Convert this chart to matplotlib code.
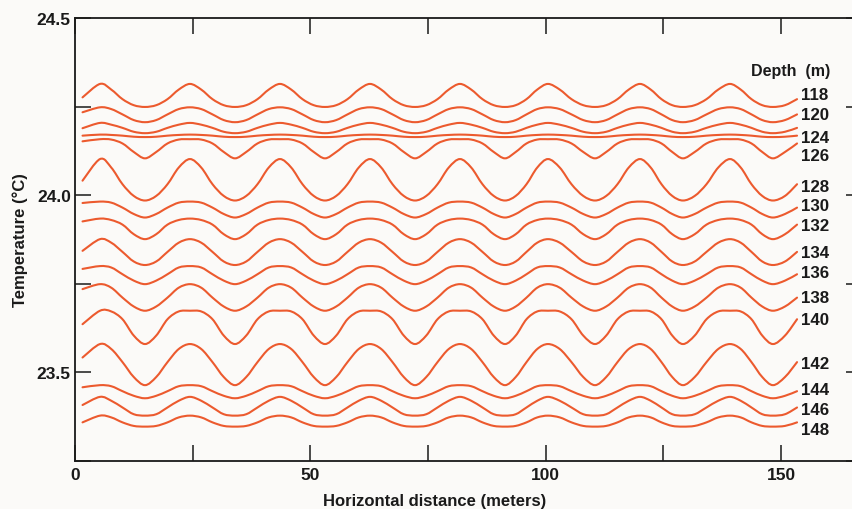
import numpy as np
import matplotlib.pyplot as plt
from matplotlib.path import Path
from matplotlib.patches import PathPatch

plt.rcParams['font.family'] = ['Liberation Sans', 'DejaVu Sans']

# Depth of each isotherm-like trace (m); the 122 m trace carries no label
DEPTHS = [118, 120, 122, 124, 126, 128, 130, 132,
          134, 136, 138, 140, 142, 144, 146, 148]
LABELED = [118, 120, 124, 126, 128, 130, 132, 134,
           136, 138, 140, 142, 144, 146, 148]

# Horizontal positions (m) of the wave crests and troughs
CREST_X = [5.31, 24.43, 43.55, 62.67, 81.79, 100.49, 120.03, 139.15]
TROUGH_X = [14.87, 33.99, 53.11, 72.24, 91.35, 110.47, 129.17, 148.29]
START_X = 1.6
END_X = 153.4

# Temperature (deg C) of each trace at crest, 1/8, 1/4, 3/8 period and trough
CREST = [24.314, 24.248, 24.204, 24.171, 24.158, 24.102, 23.982, 23.934,
         23.876, 23.800, 23.749, 23.674, 23.580, 23.464, 23.431, 23.378]
Q1 = [24.298, 24.243, 24.199, 24.170, 24.157, 24.078, 23.979, 23.930,
      23.866, 23.796, 23.739, 23.672, 23.566, 23.461, 23.420, 23.373]
MID = [24.271, 24.228, 24.190, 24.168, 24.146, 24.031, 23.965, 23.917,
       23.840, 23.777, 23.711, 23.650, 23.529, 23.447, 23.401, 23.359]
Q3 = [24.254, 24.212, 24.179, 24.165, 24.122, 23.998, 23.947, 23.890,
      23.813, 23.759, 23.686, 23.604, 23.487, 23.434, 23.382, 23.349]
TROUGH = [24.249, 24.206, 24.175, 24.164, 24.104, 23.985, 23.937, 23.876,
          23.803, 23.749, 23.674, 23.580, 23.464, 23.427, 23.378, 23.347]
START = [24.276, 24.234, 24.189, 24.168, 24.152, 24.041, 23.978, 23.926,
         23.843, 23.792, 23.735, 23.636, 23.542, 23.458, 23.408, 23.359]

# where the depth numbers sit (deg C) next to the right-hand ends
LABEL_Y = [24.283, 24.229, 24.163, 24.111, 24.025, 23.972, 23.914, 23.837,
           23.782, 23.712, 23.648, 23.526, 23.453, 23.396, 23.338]

LINE_COLOR = '#ec5a2e'
BG = '#fbfaf8'
INK = '#1a1a1a'


def knots(i):
    """Knot list for trace i: crest, eighth points, trough, repeated."""
    xs, ys = [START_X], [START[i]]
    for k, (cx, tx) in enumerate(zip(CREST_X, TROUGH_X)):
        d = tx - cx
        xs += [cx, cx + d / 4, cx + d / 2, cx + 3 * d / 4, tx]
        ys += [CREST[i], Q1[i], MID[i], Q3[i], TROUGH[i]]
        nx = CREST_X[k + 1] if k + 1 < len(CREST_X) else None
        if nx is not None:
            u = nx - tx
            xs += [tx + u / 4, tx + u / 2, tx + 3 * u / 4]
            ys += [Q3[i], MID[i], Q1[i]]
    xs += [(TROUGH_X[-1] + END_X) / 2, END_X]
    ys += [Q3[i], MID[i]]
    return np.array(xs), np.array(ys)


def smooth_path(xs, ys):
    """Catmull-Rom curve through the knots, as cubic Bezier segments."""
    p = np.column_stack([xs, ys])
    ext = np.vstack([p[0], p, p[-1]])
    verts = [p[0]]
    codes = [Path.MOVETO]
    for j in range(len(p) - 1):
        p0, p1, p2, p3 = ext[j], ext[j + 1], ext[j + 2], ext[j + 3]
        c1 = p1 + (p2 - p0) / 6
        c2 = p2 - (p3 - p1) / 6
        verts += [c1, c2, p2]
        codes += [Path.CURVE4] * 3
    return Path(verts, codes)


fig = plt.figure(figsize=(8.53, 5.10), dpi=100)
fig.patch.set_facecolor(BG)
ax = fig.add_axes([75 / 853, 48 / 510, 787 / 853, 443 / 510])
ax.set_facecolor(BG)
ax.set_xlim(0, 167.2)
ax.set_ylim(23.25, 24.5)

for i in range(len(DEPTHS)):
    xs, ys = knots(i)
    ax.add_patch(PathPatch(smooth_path(xs, ys), facecolor='none',
                           edgecolor=LINE_COLOR, lw=1.5,
                           capstyle='round', joinstyle='round'))

for depth, y in zip(LABELED, LABEL_Y):
    ax.text(154.2, y, str(depth), fontsize=12.2, fontweight='bold',
            color=INK, ha='left', va='center')
ax.text(143.6, 24.351, 'Depth  (m)', fontsize=11.5, fontweight='bold',
        color=INK, ha='left', va='center')

ax.set_xticks([0, 25, 50, 75, 100, 125, 150])
ax.set_xticklabels(['0', '', '50', '', '100', '', '150'])
ax.set_yticks([23.25, 23.5, 23.75, 24.0, 24.25, 24.5])
ax.set_yticklabels(['', '23.5', '', '24.0', '', '24.5'])
ax.tick_params(direction='in', length=11.5, width=1.1, color=INK,
               top=True, right=True, labelsize=12.5, labelcolor=INK)
ax.tick_params(axis='x', pad=4)
ax.tick_params(axis='y', pad=3)
for lab in ax.get_xticklabels() + ax.get_yticklabels():
    lab.set_fontweight('bold')
for sp in ax.spines.values():
    sp.set_color(INK)
    sp.set_linewidth(1.3)

fig.text(434.5 / 853, 1 - 501.7 / 510, 'Horizontal distance (meters)',
         fontsize=12, fontweight='bold', color=INK, ha='center', va='center')
fig.text(20 / 853, 1 - 240.5 / 510, 'Temperature (°C)', fontsize=12,
         fontweight='bold', color=INK, rotation=90, ha='center', va='center')

fig.savefig('out.png', dpi=100, facecolor=BG)
